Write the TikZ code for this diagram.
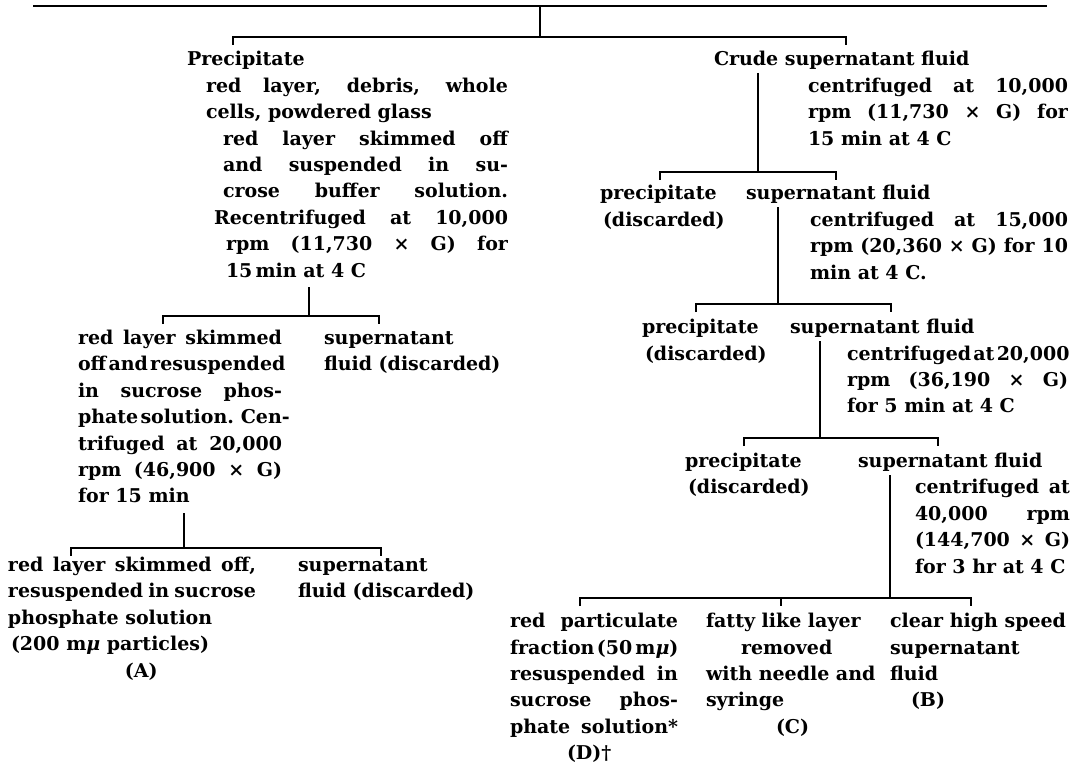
\documentclass[tikz,border=0pt]{standalone}
\usepackage{fontspec}
\setmainfont{DejaVu Serif}
\newcommand\fs{\fontsize{19pt}{26.4pt}\selectfont\bfseries}
\newcommand\Jl[2]{\hbox to #1pt{\spaceskip=.3em plus 1fil minus .18em\relax #2}}
\newcommand\Ln[1]{\hbox{#1}}
\newcommand\Blk[1]{\vtop{\baselineskip=26.4pt\lineskiplimit=-30pt\lineskip=0pt\relax #1}}
\newcommand\mmu{m{\itshape μ}}
\tikzset{
  txt/.style={anchor=base west, inner sep=0pt, outer sep=0pt, font=\fs},
  conn/.style={line width=1.3pt, line cap=butt, line join=miter},
  topline/.style={line width=2.2pt}
}
\begin{document}
\begin{tikzpicture}[x=1pt,y=-1pt]
\useasboundingbox (0,0) rectangle (1082,765);
% ---------------- text nodes ----------------
% left branch
\node[txt] (pre) at (187,66) {Precipitate};
\node[txt] (l1) at (206,92.4) {\Blk{\Jl{302}{red layer, debris, whole}\Ln{cells, powdered glass}}};
\node[txt] (l2) at (223,145.2) {\Blk{\Jl{285}{red layer skimmed off}\Jl{285}{and suspended in su-}\Jl{285}{crose buffer solution.}\hbox{\hskip-9pt\Jl{294}{Recentrifuged at 10,000}}\hbox{\hskip3pt\Jl{282}{rpm (11,730 × G) for}}\hbox{\hskip3pt 15\,min at 4 C}}};
\node[txt] (l4) at (78,344.5) {\Blk{\Jl{204}{red layer skimmed}\Jl{204}{off and resuspended}\Jl{204}{in sucrose phos-}\Jl{204}{phate solution. Cen-}\Jl{204}{trifuged at 20,000}\Jl{204}{rpm (46,900 × G)}\Ln{for 15 min}}};
\node[txt] (l5) at (324,344.5) {\Blk{\Ln{supernatant}\Ln{fluid (discarded)}}};
\node[txt] (l6) at (8,571.5) {\Blk{\Jl{248}{red layer skimmed off,}\Jl{248}{resuspended in sucrose}\Ln{phosphate solution}\Ln{\hskip3pt(200 \mmu\ particles)}\Ln{\hskip117pt(A)}}};
\node[txt] (l7) at (298,571.5) {\Blk{\Ln{supernatant}\Ln{fluid (discarded)}}};
% right branch
\node[txt] (crude) at (714,66) {Crude supernatant fluid};
\node[txt] (r1) at (808,92.4) {\Blk{\Jl{260}{centrifuged at 10,000}\Jl{260}{rpm (11,730 × G) for}\Ln{15 min at 4 C}}};
\node[txt] (r2) at (600,199.8) {\Blk{\Ln{precipitate}\Ln{\hskip3pt(discarded)}}};
\node[txt] (r3) at (746,199.8) {supernatant fluid};
\node[txt] (r4) at (810,226.2) {\Blk{\Jl{258}{centrifuged at 15,000}\Jl{258}{rpm (20,360 × G) for 10}\Ln{min at 4 C.}}};
\node[txt] (r5) at (642,333.6) {\Blk{\Ln{precipitate}\Ln{\hskip3pt(discarded)}}};
\node[txt] (r6) at (790,333.6) {supernatant fluid};
\node[txt] (r7) at (847,360) {\Blk{\Jl{221}{centrifuged at 20,000}\Jl{221}{rpm (36,190 × G)}\Ln{for 5 min at 4 C}}};
\node[txt] (r8) at (685,467.4) {\Blk{\Ln{precipitate}\Ln{\hskip3pt(discarded)}}};
\node[txt] (r9) at (858,467.4) {supernatant fluid};
\node[txt] (r10) at (915,493.8) {\Blk{\Jl{155}{centrifuged at}\Jl{155}{40,000 rpm}\Jl{155}{(144,700 × G)}\Ln{for 3 hr at 4 C}}};
\node[txt] (r11) at (510,627.6) {\Blk{\Jl{168}{red particulate}\Jl{168}{fraction (50\,\mmu)}\Jl{168}{resuspended in}\Jl{168}{sucrose phos-}\Jl{168}{phate solution*}\Ln{\hskip57pt(D)†}}};
\node[txt] (r12) at (706,627.6) {\Blk{\Ln{fatty like layer}\Ln{\hskip35pt removed}\Ln{with needle and}\Ln{syringe}\Ln{\hskip70pt(C)}}};
\node[txt] (r13) at (890,627.6) {\Blk{\Ln{clear high speed}\Ln{supernatant}\Ln{fluid}\Ln{\hskip21pt(B)}}};
% ---------------- connectors ----------------
% top
\coordinate (tl) at (33,6); \coordinate (tr) at (1047,6);
\coordinate (t0) at (540,6); \coordinate (b0) at (540,37);
\coordinate (b0l) at (233,37); \coordinate (b0r) at (846,37);
\coordinate (k0l) at (233,45); \coordinate (k0r) at (846,45);
\draw[topline] (tl) -- (tr);
\draw[conn] (t0) -- (b0);
\draw[conn] (k0l) -- (b0l) -- (b0r) -- (k0r);
% left 1
\coordinate (v1a) at (309,287); \coordinate (v1b) at (309,316);
\coordinate (b1l) at (163,316); \coordinate (b1r) at (379,316);
\coordinate (k1l) at (163,324); \coordinate (k1r) at (379,324);
\draw[conn] (v1a) -- (v1b);
\draw[conn] (k1l) -- (b1l) -- (b1r) -- (k1r);
% left 2
\coordinate (v2a) at (184,513); \coordinate (v2b) at (184,548);
\coordinate (b2l) at (71,548); \coordinate (b2r) at (381,548);
\coordinate (k2l) at (71,556); \coordinate (k2r) at (381,556);
\draw[conn] (v2a) -- (v2b);
\draw[conn] (k2l) -- (b2l) -- (b2r) -- (k2r);
% right 1
\coordinate (v3a) at (758,73); \coordinate (v3b) at (758,172);
\coordinate (b3l) at (660,172); \coordinate (b3r) at (836,172);
\coordinate (k3l) at (660,180); \coordinate (k3r) at (836,180);
\draw[conn] (v3a) -- (v3b);
\draw[conn] (k3l) -- (b3l) -- (b3r) -- (k3r);
% right 2
\coordinate (v4a) at (778,207); \coordinate (v4b) at (778,304);
\coordinate (b4l) at (696,304); \coordinate (b4r) at (891,304);
\coordinate (k4l) at (696,312); \coordinate (k4r) at (891,312);
\draw[conn] (v4a) -- (v4b);
\draw[conn] (k4l) -- (b4l) -- (b4r) -- (k4r);
% right 3
\coordinate (v5a) at (820,341); \coordinate (v5b) at (820,438);
\coordinate (b5l) at (744,438); \coordinate (b5r) at (938,438);
\coordinate (k5l) at (744,446); \coordinate (k5r) at (938,446);
\draw[conn] (v5a) -- (v5b);
\draw[conn] (k5l) -- (b5l) -- (b5r) -- (k5r);
% right 4
\coordinate (v6a) at (890,475); \coordinate (v6b) at (890,598);
\coordinate (b6l) at (580,598); \coordinate (b6r) at (971,598);
\coordinate (b6m) at (781,598);
\coordinate (k6l) at (580,606); \coordinate (k6r) at (971,606); \coordinate (k6m) at (781,606);
\draw[conn] (v6a) -- (v6b);
\draw[conn] (k6l) -- (b6l) -- (b6r) -- (k6r);
\draw[conn] (b6m) -- (k6m);
\end{tikzpicture}
\end{document}
